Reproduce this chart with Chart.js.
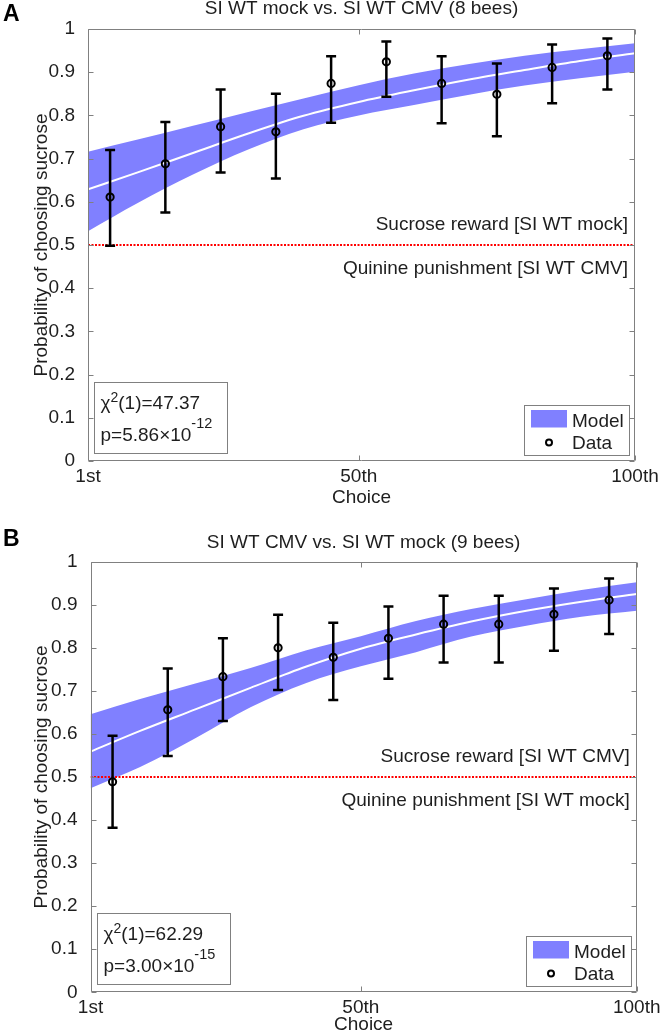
<!DOCTYPE html>
<html>
<head>
<meta charset="utf-8">
<script src="https://cdn.jsdelivr.net/npm/chart.js@4.4.1/dist/chart.umd.min.js"></script>
<style>
  html, body { margin: 0; padding: 0; background: #fff; }
  canvas { display: block; }
</style>
</head>
<body>
<canvas id="chartA" width="660" height="518"></canvas>
<canvas id="chartB" width="660" height="518"></canvas>
<script>
// choice number of each binned data point
var choiceX = [5, 15, 25, 35, 45, 55, 65, 75, 85, 95];
var modelX = [1, 10, 20, 30, 40, 50, 60, 70, 80, 90, 100];
var xRange = [1, 100];
var xTickValues = [1, 50, 100];
var xTickLabels = ['1st', '50th', '100th'];
var chanceLevel = 0.5;

// panel A
var dataA = [0.611, 0.688, 0.774, 0.762, 0.874, 0.924, 0.874, 0.849, 0.911, 0.938];
var errHighA = [0.720, 0.785, 0.860, 0.850, 0.937, 0.971, 0.937, 0.920, 0.964, 0.978];
var errLowA = [0.498, 0.575, 0.668, 0.654, 0.783, 0.843, 0.782, 0.752, 0.828, 0.860];
var meanA = [0.629, 0.668, 0.713, 0.758, 0.799, 0.831, 0.858, 0.883, 0.905, 0.926, 0.944];
var upperA = [0.716, 0.744, 0.776, 0.808, 0.839, 0.870, 0.897, 0.919, 0.938, 0.953, 0.967];
var lowerA = [0.532, 0.597, 0.663, 0.721, 0.768, 0.800, 0.824, 0.848, 0.869, 0.886, 0.901];

// panel B
var dataB = [0.489, 0.656, 0.733, 0.800, 0.778, 0.822, 0.855, 0.855, 0.878, 0.911];
var errHighB = [0.596, 0.752, 0.822, 0.877, 0.858, 0.896, 0.921, 0.921, 0.938, 0.961];
var errLowB = [0.382, 0.549, 0.630, 0.702, 0.679, 0.728, 0.766, 0.766, 0.793, 0.832];
var meanB = [0.559, 0.607, 0.657, 0.707, 0.756, 0.798, 0.831, 0.861, 0.886, 0.907, 0.925];
var upperB = [0.646, 0.681, 0.717, 0.753, 0.794, 0.827, 0.862, 0.890, 0.913, 0.934, 0.952];
var lowerB = [0.474, 0.523, 0.590, 0.662, 0.718, 0.757, 0.790, 0.826, 0.851, 0.872, 0.886];

var panelLetters = ['A', 'B'];
var panelTitles = ['SI WT mock vs. SI WT CMV (8 bees)', 'SI WT CMV vs. SI WT mock (9 bees)'];
var rewardLabels = ['Sucrose reward [SI WT mock]', 'Sucrose reward [SI WT CMV]'];
var punishLabels = ['Quinine punishment [SI WT CMV]', 'Quinine punishment [SI WT mock]'];
var chiValues = ['47.37', '62.29'];
var pMantissa = ['5.86', '3.00'];
var pExponent = ['-12', '-15'];

var FONT = '"Liberation Sans", Arial, Helvetica, sans-serif';
var GREY = '#808080';
var INK = '#1e1e1e';
var BAND = 'rgb(128,128,255)';

function font(size, weight) {
  return (weight || 'normal') + ' ' + size + 'px ' + FONT;
}

function pts(xs, ys) {
  return xs.map(function (x, i) { return { x: x, y: ys[i] }; });
}

// error bars, box, inside ticks, labels and the two little boxes
var decorations = {
  id: 'decorations',
  beforeDatasetDraw: function (chart, args, opts) {
    if (chart.data.datasets[args.index].label !== 'Data') return;
    var ctx = chart.ctx, xs = chart.scales.x, ys = chart.scales.y;
    ctx.save();
    ctx.strokeStyle = '#000';
    ctx.lineWidth = 2.5;
    opts.xs.forEach(function (v, i) {
      var px = xs.getPixelForValue(v);
      var top = ys.getPixelForValue(opts.high[i]);
      var bot = ys.getPixelForValue(opts.low[i]);
      ctx.beginPath();
      ctx.moveTo(px, top); ctx.lineTo(px, bot);
      ctx.moveTo(px - 5, top); ctx.lineTo(px + 5, top);
      ctx.moveTo(px - 5, bot); ctx.lineTo(px + 5, bot);
      ctx.stroke();
    });
    ctx.restore();
  },
  afterDatasetsDraw: function (chart, args, opts) {
    var ctx = chart.ctx, a = chart.chartArea;
    var xs = chart.scales.x, ys = chart.scales.y;
    var i = opts.panel;
    var L = Math.round(a.left) + 0.5, R = Math.round(a.right) - 0.5;
    var T = Math.round(a.top) + 0.5, B = Math.round(a.bottom) - 0.5;
    ctx.save();

    // axes box + ticks pointing inwards
    ctx.strokeStyle = GREY;
    ctx.lineWidth = 1;
    ctx.beginPath();
    ctx.rect(L, T, R - L, B - T);
    ys.ticks.forEach(function (t) {
      var py = Math.round(ys.getPixelForValue(t.value)) + 0.5;
      ctx.moveTo(L, py); ctx.lineTo(L + 5, py);
      ctx.moveTo(R, py); ctx.lineTo(R - 5, py);
    });
    xs.ticks.forEach(function (t) {
      var px = Math.round(xs.getPixelForValue(t.value)) + 0.5;
      ctx.moveTo(px, B); ctx.lineTo(px, B - 5);
      ctx.moveTo(px, T); ctx.lineTo(px, T + 5);
    });
    ctx.stroke();

    ctx.fillStyle = INK;
    ctx.textBaseline = 'alphabetic';

    // title + panel letter
    ctx.font = font(19);
    ctx.textAlign = 'center';
    ctx.fillText(panelTitles[i], (a.left + a.right) / 2, opts.titleY);
    ctx.font = font(23, 'bold');
    ctx.textAlign = 'left';
    ctx.fillStyle = '#000';
    ctx.fillText(panelLetters[i], 3, opts.letterY);

    // reward / punishment labels around the chance line
    var yc = ys.getPixelForValue(chanceLevel);
    ctx.fillStyle = INK;
    ctx.font = font(19);
    ctx.textAlign = 'right';
    ctx.fillText(rewardLabels[i], a.right - 7, yc - 15);
    ctx.fillText(punishLabels[i], a.right - 7, yc + 28.5);

    // stats box
    var sl = Math.round(a.left + 6) + 0.5, sb = Math.round(a.bottom - 8) + 0.5;
    var st = sb - 71, sw = 133;
    ctx.fillStyle = '#fff';
    ctx.fillRect(sl, st, sw, 71);
    ctx.strokeRect(sl, st, sw, 71);
    ctx.fillStyle = INK;
    ctx.textAlign = 'left';
    var x = sl + 6, y1 = st + 26.5, y2 = st + 58;
    ctx.font = font(19);
    ctx.fillText('\u03c7', x, y1);
    x += ctx.measureText('\u03c7').width;
    ctx.font = font(14);
    ctx.fillText('2', x, y1 - 7.5);
    x += ctx.measureText('2').width;
    ctx.font = font(19);
    ctx.fillText('(1)=' + chiValues[i], x, y1);
    x = sl + 6;
    var ptxt = 'p=' + pMantissa[i] + '\u00d710';
    ctx.fillText(ptxt, x, y2);
    x += ctx.measureText(ptxt).width;
    ctx.font = font(14.5);
    ctx.fillText(pExponent[i], x, y2 - 13);

    // legend
    var ds = chart.data.datasets;
    var lr = Math.round(a.right - 6) + 0.5, lb = Math.round(a.bottom - 6) + 0.5;
    var ll = lr - 105, lt = lb - 50;
    ctx.fillStyle = '#fff';
    ctx.fillRect(ll, lt, 105, 50);
    ctx.strokeRect(ll, lt, 105, 50);
    ctx.fillStyle = ds[3].backgroundColor;
    ctx.fillRect(ll + 6.5, lt + 4.5, 36, 17.5);
    ctx.strokeStyle = '#000';
    ctx.lineWidth = 2;
    ctx.beginPath();
    ctx.arc(ll + 24.5, lt + 37, 3, 0, Math.PI * 2);
    ctx.stroke();
    ctx.fillStyle = INK;
    ctx.font = font(19);
    ctx.fillText(ds[3].label, ll + 47.5, lt + 21);
    ctx.fillText(ds[0].label, ll + 47.5, lt + 43.5);

    ctx.restore();
  }
};

function makeChart(id, i, d, lay) {
  var ctx = document.getElementById(id).getContext('2d');
  return new Chart(ctx, {
    type: 'line',
    data: {
      datasets: [
        {
          label: 'Data',
          data: pts(choiceX, d.points),
          showLine: false,
          pointRadius: 3.6,
          pointHoverRadius: 3.6,
          pointBorderWidth: 2,
          pointBackgroundColor: 'rgba(0,0,0,0)',
          borderColor: '#000',
          order: 0
        },
        {
          label: 'chance',
          data: [{ x: xRange[0], y: chanceLevel }, { x: xRange[1], y: chanceLevel }],
          borderColor: '#ff0000',
          borderWidth: 2,
          borderDash: [2, 1.5],
          pointRadius: 0,
          fill: false,
          order: 1
        },
        {
          label: 'mean',
          data: pts(modelX, d.mean),
          borderColor: '#ffffff',
          borderWidth: 2,
          pointRadius: 0,
          cubicInterpolationMode: 'monotone',
          fill: false,
          order: 2
        },
        {
          label: 'Model',
          data: pts(modelX, d.upper),
          borderColor: 'rgba(0,0,0,0)',
          borderWidth: 1,
          backgroundColor: BAND,
          pointRadius: 0,
          cubicInterpolationMode: 'monotone',
          fill: '+1',
          order: 3
        },
        {
          label: 'lower',
          data: pts(modelX, d.lower),
          borderColor: 'rgba(0,0,0,0)',
          borderWidth: 1,
          pointRadius: 0,
          cubicInterpolationMode: 'monotone',
          fill: false,
          order: 4
        }
      ]
    },
    options: {
      responsive: false,
      animation: false,
      devicePixelRatio: 1,
      layout: {
        padding: { top: lay.top, right: 660 - lay.right, left: 0, bottom: 0 }
      },
      scales: {
        x: {
          type: 'linear',
          min: xRange[0],
          max: xRange[1],
          grid: { display: false },
          border: { display: false },
          afterBuildTicks: function (s) {
            s.ticks = xTickValues.map(function (v) { return { value: v }; });
          },
          afterFit: function (s) { s.height = 518 - lay.bottom; },
          ticks: {
            autoSkip: false,
            maxRotation: 0,
            padding: -4,
            color: INK,
            font: { family: FONT, size: 19 },
            callback: function (v) { return xTickLabels[xTickValues.indexOf(v)]; }
          },
          title: {
            display: true,
            text: 'Choice',
            color: INK,
            font: { family: FONT, size: 19, lineHeight: 1.2 },
            padding: { top: 0, bottom: lay.choicePad }
          }
        },
        y: {
          min: 0,
          max: 1,
          grid: { display: false },
          border: { display: false },
          afterFit: function (s) { s.width = lay.left; },
          ticks: {
            stepSize: 0.1,
            padding: 5,
            color: INK,
            font: { family: FONT, size: 19 },
            callback: function (v) { return String(Math.round(v * 10) / 10); }
          },
          title: {
            display: true,
            text: 'Probability of choosing sucrose',
            color: INK,
            font: { family: FONT, size: 19, lineHeight: 1.2 },
            padding: { top: 30.6, bottom: 0 }
          }
        }
      },
      plugins: {
        legend: { display: false },
        tooltip: { enabled: false },
        decorations: {
          panel: i,
          xs: choiceX,
          high: d.high,
          low: d.low,
          titleY: lay.titleY,
          letterY: lay.letterY
        }
      }
    },
    plugins: [decorations]
  });
}

makeChart('chartA', 0,
  { points: dataA, high: errHighA, low: errLowA, mean: meanA, upper: upperA, lower: lowerA },
  { top: 29, bottom: 461, left: 88, right: 635, titleY: 14, letterY: 21, choicePad: 9.1 });

makeChart('chartB', 1,
  { points: dataB, high: errHighB, low: errLowB, mean: meanB, upper: upperB, lower: lowerB },
  { top: 43.7, bottom: 474.3, left: 90.5, right: 636.7, titleY: 30, letterY: 28, choicePad: 0.2 });
</script>
</body>
</html>
